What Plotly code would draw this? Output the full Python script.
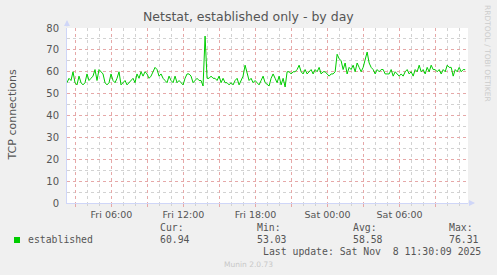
import plotly.graph_objects as go
import pandas as pd

# ---- data ----
start_time = "2025-11-07 02:18"
step_minutes = 10
established = [
    55, 57, 56, 60, 55, 54, 58, 55, 54, 55, 59, 56, 57, 58, 61, 56, 61, 60, 59, 55,
    54, 55, 59, 56, 55, 57, 60, 54, 55, 56, 54, 55, 56, 57, 55, 59, 57, 60, 58, 60,
    59, 57, 58, 60, 62, 61, 58, 59, 57, 56, 55, 58, 56, 55, 58, 55, 56, 55, 54, 57,
    59, 59, 58, 55, 56, 57, 56, 56, 53.5, 76.31, 57, 57, 58, 57, 57, 56, 58, 55, 57, 55,
    55, 54, 55, 54, 56, 57, 54, 56, 58, 63, 60, 56, 57, 55, 56, 55, 54, 56, 58, 55,
    54, 53.5, 57, 59, 57, 55, 58, 54, 57, 53.03, 60, 60, 59, 60, 60, 61, 63, 60, 59, 61,
    59, 60, 61, 59, 61, 60, 62, 59, 60, 60, 59, 58, 59, 59, 60, 68, 66, 65, 61, 64,
    59, 62, 61, 63, 60, 64, 62, 60, 62, 66, 69, 64, 62, 61, 59, 61, 60, 61, 61, 59,
    59, 59, 61, 58, 60, 59, 58, 59, 58, 60, 61, 59, 60, 58, 61, 60, 63, 60, 61, 59,
    62, 60, 63, 61, 61, 60, 61, 59, 61, 60, 63, 62, 62, 58, 61, 60, 62, 60, 61, 60.94,
]
x_range = ["2025-11-07 02:18", "2025-11-08 11:42"]
y_range = [0, 80]
tick_vals = pd.date_range("2025-11-07 03:00", "2025-11-08 09:00", freq="3h")
tick_text = [t.strftime("%a %H:%M") if t.hour % 6 == 0 else "" for t in tick_vals]
legend_name = "established"
stats_labels = ["Cur:", "Min:", "Avg:", "Max:"]
stats_values = ["60.94", "53.03", "58.58", "76.31"]
title_text = "Netstat, established only - by day"
y_title = "TCP connections"
last_update = "Last update: Sat Nov  8 11:30:09 2025"
footer = "Munin 2.0.73"
side_text = "RRDTOOL / TOBI OETIKER"

times = pd.date_range(start_time, periods=len(established), freq=f"{step_minutes}min")

W, H = 497, 275
L, R, T, B = 67, 29, 28, 72
PW, PH = W - L - R, H - T - B

def px(x):
    return (x - L) / PW

def py(y):
    return (H - B - y) / PH

GRID = "#D2D2D2"
MGRID = "#E6A8A8"
AXIS = "#CFD6F8"
FONT = "#555555"

fig = go.Figure()
fig.add_trace(go.Scatter(x=times, y=established, mode="lines",
                         line=dict(color="#00CC00", width=1), name=legend_name,
                         showlegend=False))

fig.update_layout(
    width=W, height=H, margin=dict(l=L, r=R, t=T, b=B),
    paper_bgcolor="#F0F0F0", plot_bgcolor="#FFFFFF",
    font=dict(family="DejaVu Sans", size=9.5, color=FONT),
    showlegend=False,
)
fig.update_xaxes(
    range=x_range, type="date",
    tickmode="array", tickvals=tick_vals, ticktext=tick_text,
    showgrid=True, gridcolor=MGRID, griddash="dot", gridwidth=1,
    ticks="outside", ticklen=3, tickcolor=MGRID,
    showline=True, linecolor=AXIS, linewidth=1,
    zeroline=False,
    minor=dict(tickmode="linear", tick0="2025-11-07 00:00", dtick=3600000,
               showgrid=True, gridcolor=GRID, griddash="dot", gridwidth=1,
               ticks="outside", ticklen=2, tickcolor=GRID),
    tickfont=dict(size=9.5, color=FONT),
)
fig.update_yaxes(
    range=y_range, dtick=10,
    showgrid=True, gridcolor=MGRID, griddash="dot", gridwidth=1,
    showline=True, linecolor=AXIS, linewidth=1,
    zeroline=False, ticks="", ticklabelstandoff=5,
    minor=dict(dtick=5, showgrid=True, gridcolor=GRID, griddash="dot", gridwidth=1),
    tickfont=dict(size=10, color=FONT),
)

ann = []
ann.append(dict(text=title_text, x=px(248.5), y=py(17), xref="paper", yref="paper",
                showarrow=False, font=dict(size=12.5, color=FONT), xanchor="center", yanchor="middle"))
ann.append(dict(text=y_title, x=px(12), y=py(115.5), xref="paper", yref="paper",
                showarrow=False, textangle=-90, font=dict(size=11, color=FONT),
                xanchor="center", yanchor="middle"))
ann.append(dict(text=side_text, x=px(488), y=py(53), xref="paper", yref="paper",
                showarrow=False, textangle=90, font=dict(size=7.5, color="#CCCCCC"),
                xanchor="center", yanchor="middle"))
mono = dict(family="DejaVu Sans Mono", size=9.8, color=FONT)
ann.append(dict(text=legend_name, x=px(26), y=py(239.5), xref="paper", yref="paper",
                showarrow=False, font=mono, xanchor="left", yanchor="middle"))
for lab, val, xpos in zip(stats_labels, stats_values, [158, 255, 351, 447]):
    ann.append(dict(text=lab, x=px(xpos), y=py(227), xref="paper", yref="paper",
                    showarrow=False, font=mono, xanchor="left", yanchor="middle"))
    ann.append(dict(text=val, x=px(xpos), y=py(239.5), xref="paper", yref="paper",
                    showarrow=False, font=mono, xanchor="left", yanchor="middle"))
ann.append(dict(text=last_update.replace("  ", "&nbsp; "), x=px(483), y=py(251.7), xref="paper", yref="paper",
                showarrow=False, font=mono, xanchor="right", yanchor="middle"))
ann.append(dict(text=footer, x=px(248), y=py(264), xref="paper", yref="paper",
                showarrow=False, font=dict(family="DejaVu Sans", size=7.5, color="#C8C8C8"),
                xanchor="center", yanchor="middle"))
# axis arrows
ann.append(dict(text="", x=px(67), y=py(20), xref="paper", yref="paper", ax=0, ay=8,
                showarrow=True, arrowhead=2, arrowsize=1.2, arrowwidth=1, arrowcolor=AXIS))
ann.append(dict(text="", x=px(475), y=py(203), xref="paper", yref="paper", ax=-8, ay=0,
                showarrow=True, arrowhead=2, arrowsize=1.2, arrowwidth=1, arrowcolor=AXIS))
fig.update_layout(annotations=ann)

fig.add_shape(type="rect", xref="paper", yref="paper",
              x0=px(14), x1=px(20), y0=py(243), y1=py(237),
              fillcolor="#00CC00", line=dict(width=0))

fig.write_html("out.html")
